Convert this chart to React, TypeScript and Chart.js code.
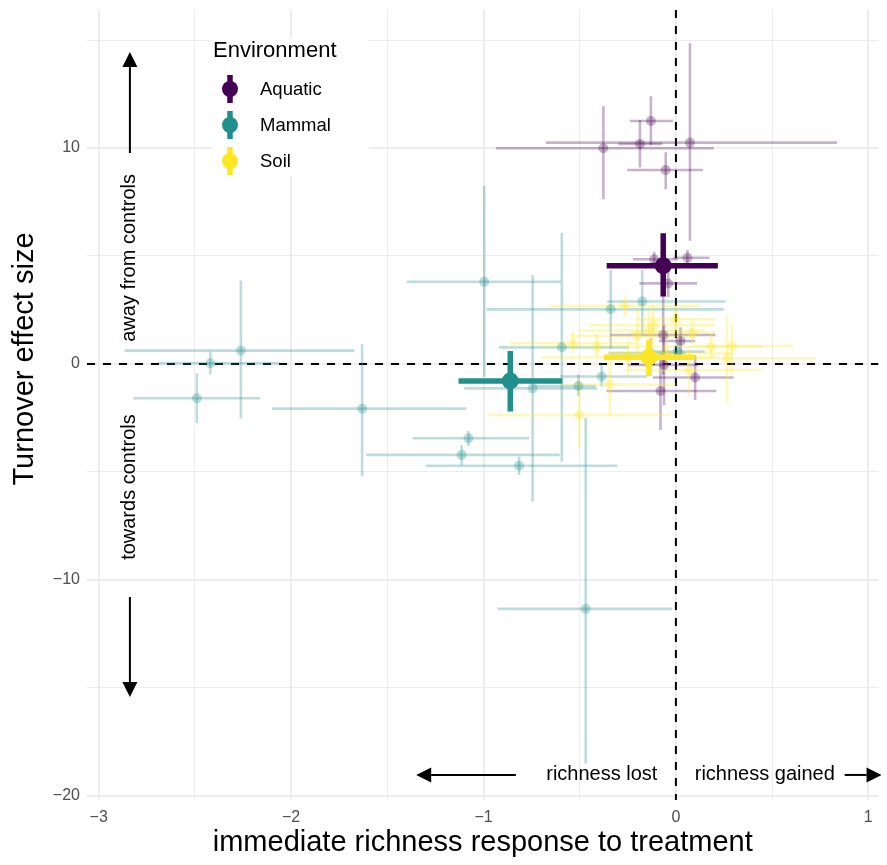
import React, { useEffect, useRef } from 'react';
import { Chart, registerables } from 'chart.js';
Chart.register(...registerables);

const FONT = '"Liberation Sans", Arial, Helvetica, sans-serif';

const groupNames = ['Aquatic', 'Mammal', 'Soil'];
const groupColors = ['#440154', '#21908C', '#FDE725'];

// Study-level estimates: Aquatic
const aquaticX = [-0.377, 0.073, -0.187, -0.13, -0.053, -0.113, 0.06, -0.04, -0.066, 0.024, -0.062, 0.1, -0.08];
const aquaticY = [9.99, 10.25, 10.19, 11.25, 8.98, 4.85, 4.92, 3.73, 1.34, 1.06, -0.05, -0.63, -1.25];
const aquaticXLo = [-0.936, -0.676, -0.299, -0.24, -0.253, -0.223, -0.014, -0.19, -0.34, -0.088, -0.25, -0.12, -0.36];
const aquaticXHi = [0.197, 0.837, -0.071, -0.016, 0.14, 0.01, 0.175, 0.11, 0.206, 0.1, 0.12, 0.3, 0.21];
const aquaticYLo = [7.63, 5.71, 9.1, 10.14, 8.1, 4.5, 4.67, 3.1, -0.5, 0.4, -1.9, -1.67, -3.06];
const aquaticYHi = [11.94, 14.85, 11.3, 12.4, 9.8, 5.2, 5.28, 4.3, 3.2, 1.7, 1.8, 0.4, 0.5];

// Study-level estimates: Mammal
const mammalX = [-2.261, -2.42, -2.49, -1.631, -0.996, -0.745, -0.339, -0.593, -0.175, -0.386, -0.507, 0.01, -1.078, -1.114, -0.815, -0.469, -0.13];
const mammalY = [0.62, 0.03, -1.59, -2.07, 3.81, -1.13, 2.53, 0.77, 2.89, -0.58, -1.02, 0.57, -3.44, -4.21, -4.71, -11.34, 0.5];
const mammalXLo = [-2.865, -2.69, -2.82, -2.1, -1.4, -1.1, -0.984, -0.92, -0.358, -0.6, -0.75, -0.15, -1.368, -1.61, -1.3, -0.927, -0.35];
const mammalXHi = [-1.671, -2.06, -2.16, -1.09, -0.598, -0.41, 0.249, -0.245, 0.258, -0.15, -0.417, 0.15, -0.763, -0.604, -0.305, -0.019, 0.05];
const mammalYLo = [-2.51, -0.48, -2.75, -5.2, -0.6, -6.37, 0.7, -4.52, 1.4, -1.05, -1.5, 0.2, -3.8, -4.68, -5.14, -18.5, 0.0];
const mammalYHi = [3.86, 0.57, -0.43, 0.91, 8.24, 4.12, 4.35, 6.08, 4.35, 0.0, -0.5, 1.0, -3.09, -3.75, -4.29, -2.5, 1.2];

// Study-level estimates: Soil
const soilX = [-0.265, -0.118, -0.14, -0.002, 0.085, 0.183, 0.292, 0.266, -0.535, -0.41, -0.344, -0.503, 0.067, -0.25, -0.05, -0.2];
const soilY = [2.69, 1.8, 1.55, 2.07, 1.45, 0.8, 0.83, 0.26, 0.96, 0.8, -0.95, -2.36, -0.28, 0.3, 0.5, 1.3];
const soilXLo = [-0.66, -0.45, -0.5, -0.2, -0.244, -0.1, 0.08, -0.2, -0.87, -0.7, -0.6, -0.98, -0.25, -0.7, -0.35, -0.55];
const soilXHi = [0.128, 0.2, 0.15, 0.2, 0.206, 0.45, 0.61, 0.73, -0.2, -0.1, 0.0, -0.03, 0.45, 0.2, 0.3, 0.1];
const soilYLo = [2.2, 0.9, 0.5, 1.5, 0.9, 0.3, -0.5, -1.8, 0.5, 0.3, -2.36, -3.9, -1.5, -0.5, -0.3, 0.5];
const soilYHi = [3.2, 2.7, 2.5, 2.6, 2.0, 1.4, 1.8, 2.27, 1.5, 1.4, 0.4, -0.7, 0.8, 1.0, 1.2, 2.5];

// Group means (Aquatic, Mammal, Soil)
const meanX = [-0.066, -0.861, -0.14];
const meanY = [4.55, -0.79, 0.31];
const meanXLo = [-0.36, -1.13, -0.374];
const meanXHi = [0.218, -0.59, 0.099];
const meanYLo = [3.12, -2.2, -0.56];
const meanYHi = [6.05, 0.6, 1.11];

const xTicks = [-3, -2.5, -2, -1.5, -1, -0.5, 0, 0.5, 1];
const yTicks = [-20, -15, -10, -5, 0, 5, 10, 15];
const X_MIN = -3.061;
const X_MAX = 1.053;
const Y_MIN = -20.19;
const Y_MAX = 16.39;

const xTitle = 'immediate richness response to treatment';
const yTitle = 'Turnover effect size';
const legendTitle = 'Environment';

// annotation anchors in data units
const arrowX = -2.838;
const upArrow = [9.77, 14.44];
const downArrow = [-10.79, -15.42];
const awayLabel = { text: 'away from controls', y: 4.91 };
const towardsLabel = { text: 'towards controls', y: -5.7 };
const arrowY = -19.03;
const leftArrow = [-0.832, -1.35];
const rightArrow = [0.877, 1.069];
const lostLabel = { text: 'richness lost', x: -0.385 };
const gainedLabel = { text: 'richness gained', x: 0.462 };

function rgba(hex: string, a: number) {
  const n = parseInt(hex.slice(1), 16);
  return `rgba(${(n >> 16) & 255},${(n >> 8) & 255},${n & 255},${a})`;
}

function fmt(v: number) {
  return v < 0 ? '\u2212' + Math.abs(v) : String(v);
}

const STUDY_ALPHA = 0.3;

const studyGroups = [
  { x: aquaticX, y: aquaticY, xlo: aquaticXLo, xhi: aquaticXHi, ylo: aquaticYLo, yhi: aquaticYHi },
  { x: mammalX, y: mammalY, xlo: mammalXLo, xhi: mammalXHi, ylo: mammalYLo, yhi: mammalYHi },
  { x: soilX, y: soilY, xlo: soilXLo, xhi: soilXHi, ylo: soilYLo, yhi: soilYHi },
];

function drawBars(ctx: CanvasRenderingContext2D, xs: any, ys: any, g: any, i: number, color: string, width: number) {
  ctx.strokeStyle = color;
  ctx.lineWidth = width;
  ctx.lineCap = 'butt';
  ctx.beginPath();
  ctx.moveTo(xs.getPixelForValue(g.x[i]), ys.getPixelForValue(g.ylo[i]));
  ctx.lineTo(xs.getPixelForValue(g.x[i]), ys.getPixelForValue(g.yhi[i]));
  ctx.stroke();
  ctx.beginPath();
  ctx.moveTo(xs.getPixelForValue(g.xlo[i]), ys.getPixelForValue(g.y[i]));
  ctx.lineTo(xs.getPixelForValue(g.xhi[i]), ys.getPixelForValue(g.y[i]));
  ctx.stroke();
}

function drawArrow(ctx: CanvasRenderingContext2D, x1: number, y1: number, x2: number, y2: number) {
  const ang = Math.atan2(y2 - y1, x2 - x1);
  const hl = 15, hw = 7.5;
  const bx = x2 - hl * Math.cos(ang), by = y2 - hl * Math.sin(ang);
  ctx.strokeStyle = '#000';
  ctx.fillStyle = '#000';
  ctx.lineWidth = 2;
  ctx.beginPath();
  ctx.moveTo(x1, y1);
  ctx.lineTo(bx, by);
  ctx.stroke();
  ctx.beginPath();
  ctx.moveTo(x2, y2);
  ctx.lineTo(bx + hw * Math.sin(ang), by - hw * Math.cos(ang));
  ctx.lineTo(bx - hw * Math.sin(ang), by + hw * Math.cos(ang));
  ctx.closePath();
  ctx.fill();
}

const customPlugin = {
  id: 'customLayers',
  beforeDatasetsDraw(chart: any) {
    const { ctx, chartArea: ca, scales } = chart;
    const xs = scales.x, ys = scales.y;
    ctx.save();
    ctx.beginPath();
    ctx.rect(ca.left, ca.top, ca.right - ca.left, ca.bottom - ca.top);
    ctx.clip();
    // reference lines
    ctx.strokeStyle = '#000';
    ctx.lineWidth = 2;
    ctx.setLineDash([8, 8]);
    ctx.beginPath();
    ctx.moveTo(ca.left, ys.getPixelForValue(0));
    ctx.lineTo(ca.right, ys.getPixelForValue(0));
    ctx.stroke();
    ctx.beginPath();
    ctx.moveTo(xs.getPixelForValue(0), ca.top);
    ctx.lineTo(xs.getPixelForValue(0), ca.bottom);
    ctx.stroke();
    ctx.setLineDash([]);
    // study-level error bars
    studyGroups.forEach((g, gi) => {
      for (let i = 0; i < g.x.length; i++) {
        drawBars(ctx, xs, ys, g, i, rgba(groupColors[gi], STUDY_ALPHA), 2.6);
      }
    });
    ctx.restore();
  },
  beforeDatasetDraw(chart: any, args: any) {
    const ds = chart.data.datasets[args.index];
    if (!ds.firstMean) return;
    const { ctx, chartArea: ca, scales } = chart;
    ctx.save();
    ctx.beginPath();
    ctx.rect(ca.left, ca.top, ca.right - ca.left, ca.bottom - ca.top);
    ctx.clip();
    const g = { x: meanX, y: meanY, xlo: meanXLo, xhi: meanXHi, ylo: meanYLo, yhi: meanYHi };
    for (let i = 0; i < meanX.length; i++) {
      drawBars(ctx, scales.x, scales.y, g, i, groupColors[i], 5.5);
    }
    ctx.restore();
  },
  afterDraw(chart: any) {
    const { ctx, chartArea: ca, scales } = chart;
    const xs = scales.x, ys = scales.y;
    ctx.save();
    // annotation arrows
    const ax = xs.getPixelForValue(arrowX);
    drawArrow(ctx, ax, ys.getPixelForValue(upArrow[0]), ax, ys.getPixelForValue(upArrow[1]));
    drawArrow(ctx, ax, ys.getPixelForValue(downArrow[0]), ax, ys.getPixelForValue(downArrow[1]));
    const ay = ys.getPixelForValue(arrowY);
    drawArrow(ctx, xs.getPixelForValue(leftArrow[0]), ay, xs.getPixelForValue(leftArrow[1]), ay);
    drawArrow(ctx, xs.getPixelForValue(rightArrow[0]), ay, xs.getPixelForValue(rightArrow[1]), ay);
    // annotation texts
    ctx.fillStyle = '#000';
    ctx.font = `20px ${FONT}`;
    ctx.textAlign = 'center';
    ctx.textBaseline = 'middle';
    ctx.fillText(lostLabel.text, xs.getPixelForValue(lostLabel.x), ay);
    ctx.fillText(gainedLabel.text, xs.getPixelForValue(gainedLabel.x), ay);
    [awayLabel, towardsLabel].forEach((l) => {
      ctx.save();
      ctx.translate(ax, ys.getPixelForValue(l.y));
      ctx.rotate(-Math.PI / 2);
      ctx.fillText(l.text, 0, 0);
      ctx.restore();
    });
    // axis titles
    ctx.font = `29px ${FONT}`;
    ctx.fillText(xTitle, (ca.left + ca.right) / 2, 843);
    ctx.save();
    ctx.translate(25, 359);
    ctx.rotate(-Math.PI / 2);
    ctx.fillText(yTitle, 0, 0);
    ctx.restore();
    // legend
    ctx.fillStyle = '#fff';
    ctx.fillRect(212, 38, 157, 139);
    ctx.fillStyle = '#000';
    ctx.textAlign = 'left';
    ctx.textBaseline = 'alphabetic';
    ctx.font = `22px ${FONT}`;
    ctx.fillText(legendTitle, 213, 57);
    const ly = [89, 125, 161];
    groupNames.forEach((name, i) => {
      ctx.strokeStyle = groupColors[i];
      ctx.lineWidth = 5.5;
      ctx.beginPath();
      ctx.moveTo(230, ly[i] - 14);
      ctx.lineTo(230, ly[i] + 14);
      ctx.stroke();
      ctx.fillStyle = groupColors[i];
      ctx.beginPath();
      ctx.arc(230, ly[i], 8, 0, Math.PI * 2);
      ctx.fill();
      ctx.fillStyle = '#000';
      ctx.font = `18.5px ${FONT}`;
      ctx.textBaseline = 'middle';
      ctx.fillText(name, 260, ly[i] + 1);
    });
    ctx.restore();
  },
};

export default function App() {
  const canvasRef = useRef<HTMLCanvasElement | null>(null);
  useEffect(() => {
    const canvas = canvasRef.current;
    if (!canvas) return;
    const studyDatasets = studyGroups.map((g, gi) => ({
      label: groupNames[gi] + ' studies',
      data: g.x.map((v, i) => ({ x: v, y: g.y[i] })),
      backgroundColor: rgba(groupColors[gi], STUDY_ALPHA),
      borderWidth: 0,
      pointRadius: 5,
      order: 10 - gi,
    }));
    const meanDatasets = groupNames.map((n, i) => ({
      label: n + ' mean',
      data: [{ x: meanX[i], y: meanY[i] }],
      backgroundColor: groupColors[i],
      borderWidth: 0,
      pointRadius: 8.5,
      order: 3 - i,
      firstMean: i === 0,
    }));
    const chart = new Chart(canvas, {
      type: 'scatter',
      data: { datasets: [...studyDatasets, ...meanDatasets] as any },
      plugins: [customPlugin as any],
      options: {
        responsive: false,
        animation: false,
        devicePixelRatio: 1,
        layout: { padding: { left: 0, right: 7, top: 10, bottom: 0 } },
        plugins: { legend: { display: false }, tooltip: { enabled: false } },
        events: [],
        scales: {
          x: {
            type: 'linear',
            min: X_MIN,
            max: X_MAX,
            afterFit: (s: any) => { s.height = 65; s.paddingLeft = 0; s.paddingRight = 0; },
            afterBuildTicks: (s: any) => { s.ticks = xTicks.map((v) => ({ value: v })); },
            border: { display: false },
            grid: {
              drawTicks: false,
              color: '#ebebeb',
              lineWidth: (c: any) => (c.tick && Number.isInteger(c.tick.value) ? 1.8 : 0.9),
            },
            ticks: {
              autoSkip: false,
              maxRotation: 0,
              padding: 8,
              color: '#4d4d4d',
              font: { family: FONT, size: 16 },
              callback: (v: any) => (Number.isInteger(v) ? fmt(v) : ''),
            },
          },
          y: {
            type: 'linear',
            min: Y_MIN,
            max: Y_MAX,
            afterFit: (s: any) => { s.width = 87; s.paddingTop = 0; s.paddingBottom = 0; },
            afterBuildTicks: (s: any) => { s.ticks = yTicks.map((v) => ({ value: v })); },
            border: { display: false },
            grid: {
              drawTicks: false,
              color: '#ebebeb',
              lineWidth: (c: any) => (c.tick && c.tick.value % 10 === 0 ? 1.8 : 0.9),
            },
            ticks: {
              autoSkip: false,
              padding: 7,
              color: '#4d4d4d',
              font: { family: FONT, size: 16 },
              callback: (v: any) => (v % 10 === 0 ? fmt(v) : ''),
            },
          },
        },
      } as any,
    });
    return () => chart.destroy();
  }, []);
  return (
    <div style={{ position: 'fixed', left: 0, top: 0, width: 887, height: 865, background: '#fff' }}>
      <canvas ref={canvasRef} width={887} height={865} style={{ display: 'block' }} />
    </div>
  );
}
